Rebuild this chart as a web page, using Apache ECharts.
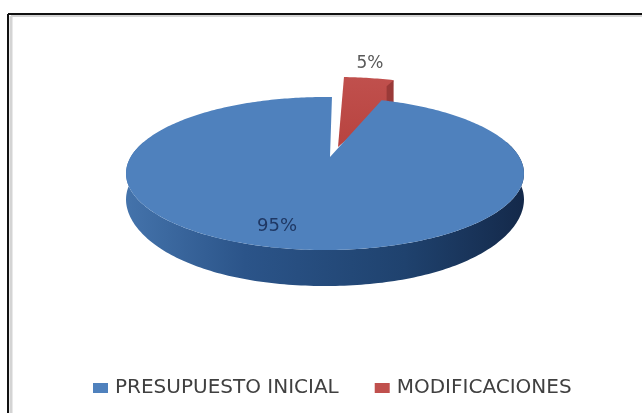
<!DOCTYPE html>
<html>
<head>
<meta charset="utf-8">
<style>
  html, body { margin: 0; padding: 0; background: #fff; overflow: hidden; }
  /* la referencia es una imagen algo borrosa */
  #main { width: 642px; height: 413px; filter: blur(0.6px); }
</style>
<script src="https://cdn.jsdelivr.net/npm/echarts@6/dist/echarts.min.js"></script>
</head>
<body>
<div id="main"></div>
<script>
// datos
const categories = ['PRESUPUESTO INICIAL', 'MODIFICACIONES']
const values = [95, 5]
const colors = ['#4f81bd', '#c0504d']

const total = values[0] + values[1]
const rotation = 2.5 // el primer sector (rojo) empieza aqui
const redStart = rotation
const blueEnd = redStart + 360

// proyeccion en perspectiva del disco: el centro queda arriba del centro de la elipse
const cx = 325
const cy = 157
const rx = 194.3
const ry = 39.07
const persp = -0.2157
const depth = 36

function rim (deg) {
  const a = deg * Math.PI / 180
  const u = Math.sin(a)
  const v = -Math.cos(a)
  const w = 1 + persp * v
  return [cx + rx * u / w, (cy + ry * v) / w]
}

function arc (from, to, dx, dy) {
  const pts = []
  for (let d = from; ; d += 1) {
    const p = rim(Math.min(d, to))
    pts.push([p[0] + dx, p[1] + dy])
    if (d >= to) break
  }
  return pts
}

// borde inferior de la pared: menos alto hacia los extremos
function wallBottom (from, to) {
  const pts = []
  for (let d = from; d <= to; d += 1) {
    const p = rim(d)
    const u = Math.abs(Math.sin(d * Math.PI / 180))
    pts.push([p[0], p[1] + depth * (1 - 0.3 * u * u * u)])
  }
  return pts
}

function renderBlue (params, api) {
  const value = api.value(0)
  const sweep = value / total * 360
  const start = blueEnd - sweep
  const apex = [330, 157]
  // pared frontal visible entre los extremos de la elipse
  const side = Math.acos(persp) * 180 / Math.PI
  const front = arc(180 - side, 180 + side, 0, 0)
  const wall = front.concat(wallBottom(180 - side, 180 + side).reverse())
  return {
    type: 'group',
    children: [
      {
        type: 'polygon',
        shape: { points: wall },
        style: {
          fill: new echarts.graphic.LinearGradient(0, 0, 1, 0, [
            { offset: 0, color: '#4473ab' },
            { offset: 0.3, color: '#2b5489' },
            { offset: 0.7, color: '#1f426e' },
            { offset: 1, color: '#14294a' }
          ])
        }
      },
      {
        type: 'polygon',
        shape: { points: [apex].concat(arc(start, blueEnd, 0, 0)) },
        style: { fill: colors[0] }
      },
      {
        type: 'text',
        style: {
          text: value + '%',
          x: 277,
          y: 226,
          align: 'center',
          verticalAlign: 'middle',
          fill: '#1f3864',
          font: '18px "DejaVu Sans"'
        }
      }
    ]
  }
}

function renderRed (params, api) {
  const value = api.value(0)
  const end = redStart + value / total * 360
  const apex = [338, 147]
  const top = arc(redStart, end, 12, -20)
  const last = top[top.length - 1]
  // el punto extra queda debajo del sector azul, asi no sale un hueco blanco
  const under = [last[0] - 8, last[1] + 26]
  return {
    type: 'group',
    children: [
      {
        type: 'polygon',
        shape: { points: [apex].concat(top, [under]) },
        style: {
          fill: new echarts.graphic.LinearGradient(0, 0, 0, 1, [
            { offset: 0, color: colors[1] },
            { offset: 1, color: '#b8433f' }
          ])
        }
      },
      {
        type: 'polygon',
        shape: { points: [last, [last[0], last[1] + 24], [last[0] - 7, last[1] + 24], [last[0] - 7, last[1] + 6]] },
        style: { fill: '#9a3a38' }
      },
      {
        type: 'text',
        style: {
          text: value + '%',
          x: 370,
          y: 64,
          align: 'center',
          verticalAlign: 'middle',
          fill: '#595959',
          font: '17px "DejaVu Sans"'
        }
      }
    ]
  }
}

const chart = echarts.init(document.getElementById('main'))
chart.setOption({
  animation: false,
  backgroundColor: '#fff',
  // solo se ve el borde superior e izquierdo, con una sombra gris por dentro
  graphic: [
    { type: 'line', shape: { x1: 8, y1: 14, x2: 642, y2: 14 }, style: { stroke: '#111', lineWidth: 2 }, silent: true },
    { type: 'line', shape: { x1: 8, y1: 14, x2: 8, y2: 413 }, style: { stroke: '#111', lineWidth: 2 }, silent: true },
    { type: 'line', shape: { x1: 11, y1: 16, x2: 642, y2: 16 }, style: { stroke: '#d4d4d4', lineWidth: 2 }, silent: true },
    { type: 'line', shape: { x1: 11, y1: 16, x2: 11, y2: 413 }, style: { stroke: '#d4d4d4', lineWidth: 3 }, silent: true }
  ],
  legend: {
    data: categories,
    left: 93,
    top: 378,
    padding: 0,
    itemWidth: 15,
    itemHeight: 10,
    itemGap: 36,
    icon: 'rect',
    textStyle: { color: '#404040', fontFamily: 'DejaVu Sans', fontSize: 20, padding: [0, 0, 0, 2] }
  },
  series: [
    {
      name: categories[0],
      type: 'custom',
      coordinateSystem: 'none',
      z: 3,
      itemStyle: { color: colors[0] },
      renderItem: renderBlue,
      data: [values[0]]
    },
    {
      name: categories[1],
      type: 'custom',
      coordinateSystem: 'none',
      z: 2,
      itemStyle: { color: colors[1] },
      renderItem: renderRed,
      data: [values[1]]
    }
  ]
})
</script>
</body>
</html>
